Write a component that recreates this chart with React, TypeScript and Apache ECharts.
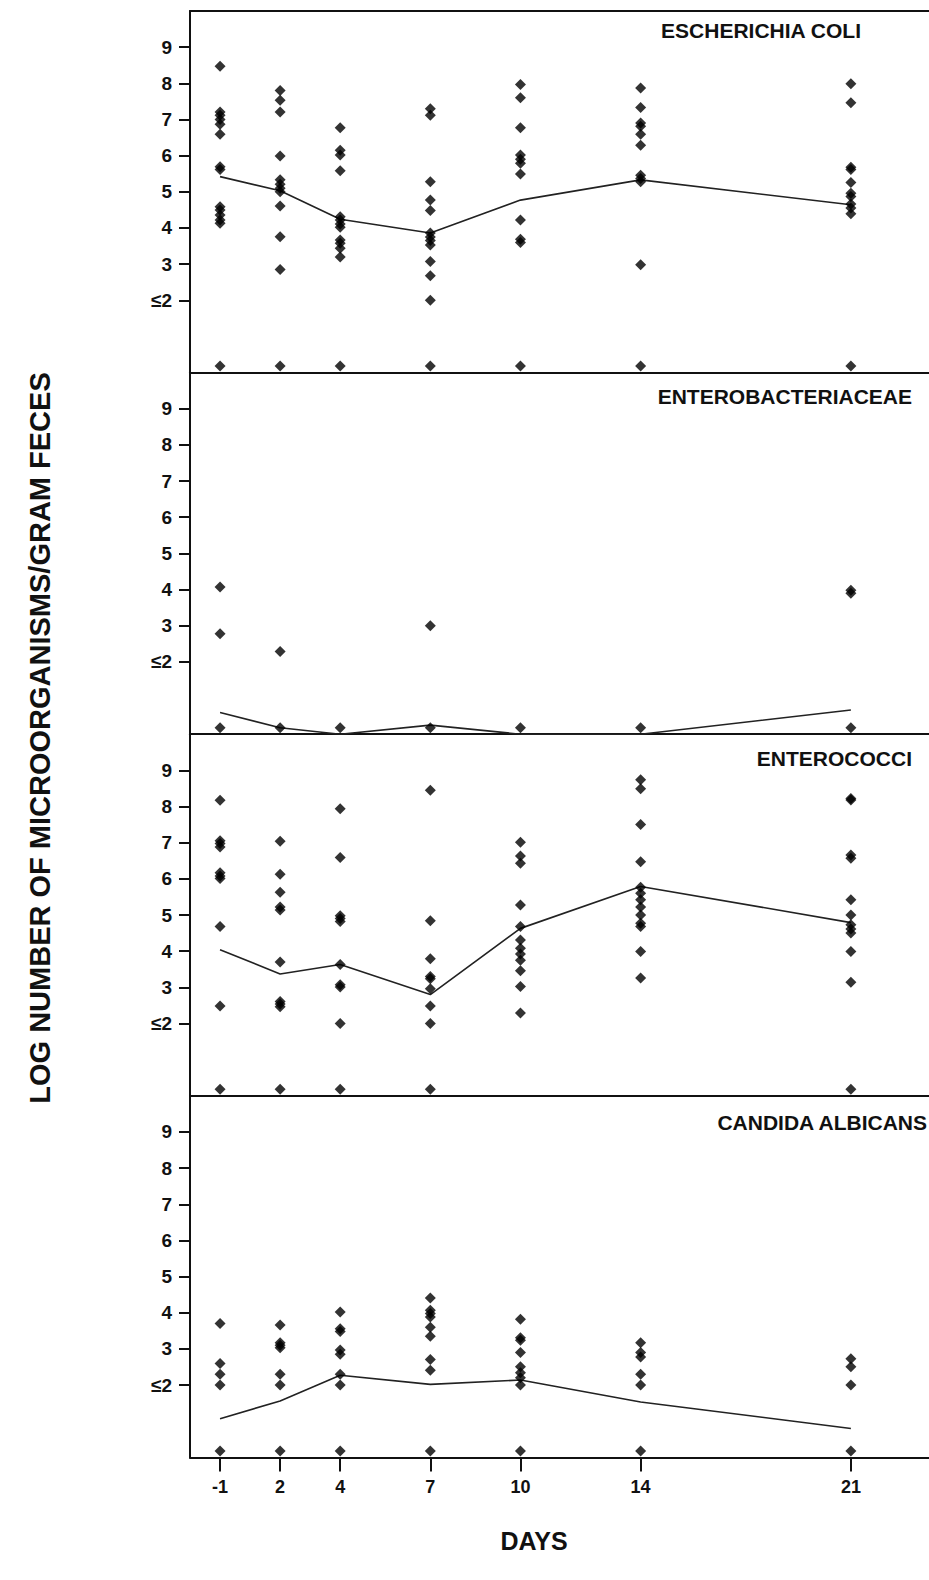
import { useEffect, useRef } from "react";
import * as echarts from "echarts";

// Sampling days and the axis position at which the figure draws each one
const dayLabels = ["-1", "2", "4", "7", "10", "14", "21"];
const dayAxisPos = [0, 2, 4, 7, 10, 14, 21];
const yTickValues = [2, 3, 4, 5, 6, 7, 8, 9];
const panelTitles = ["ESCHERICHIA COLI", "ENTEROBACTERIACEAE", "ENTEROCOCCI", "CANDIDA ALBICANS"];

// Individual log counts per day (0.18 = below detection limit row)
const ecoliPoints = [
  [8.47, 7.21, 7.12, 7.0, 6.87, 6.59, 5.69, 5.62, 4.59, 4.5, 4.36, 4.22, 4.13, 0.18],
  [7.8, 7.53, 7.21, 5.99, 5.33, 5.21, 5.1, 5.0, 4.61, 3.76, 2.85, 0.18],
  [6.77, 6.15, 6.02, 5.58, 4.31, 4.22, 4.11, 4.02, 3.67, 3.58, 3.44, 3.2, 0.18],
  [7.3, 7.12, 5.28, 4.77, 4.48, 3.86, 3.75, 3.65, 3.53, 3.07, 2.68, 2.0, 0.18],
  [7.97, 7.6, 6.77, 6.02, 5.9, 5.79, 5.49, 4.22, 3.69, 3.6, 0.18],
  [7.87, 7.33, 6.9, 6.81, 6.59, 6.29, 5.46, 5.37, 5.28, 2.98, 0.18],
  [7.99, 7.46, 5.68, 5.62, 5.26, 4.96, 4.87, 4.66, 4.55, 4.39, 0.18],
];
const ecoliMean = [5.42, 5.03, 4.24, 3.86, 4.77, 5.33, 4.64];

const enteroPoints = [
  [4.07, 2.78, 0.18],
  [2.29, 0.18],
  [0.18],
  [3.0, 0.18],
  [0.18],
  [0.18],
  [3.98, 3.9, 0.18],
];
const enteroMean = [0.6, 0.18, 0, 0.25, 0, 0, 0.67];

const enterococciPoints = [
  [8.17, 7.05, 6.98, 6.88, 6.17, 6.08, 6.01, 4.68, 2.48, 0.18],
  [7.04, 6.13, 5.63, 5.22, 5.14, 3.7, 2.61, 2.54, 2.46, 0.18],
  [7.94, 6.59, 4.98, 4.9, 4.82, 3.63, 3.07, 3.01, 2.0, 0.18],
  [8.45, 4.84, 3.79, 3.3, 3.24, 2.96, 2.48, 2.0, 0.18],
  [7.01, 6.63, 6.43, 5.28, 4.68, 4.31, 4.08, 3.92, 3.75, 3.46, 3.02, 2.29],
  [8.74, 8.49, 7.5, 6.47, 5.77, 5.6, 5.42, 5.22, 5.0, 4.77, 4.68, 3.99, 3.26],
  [8.22, 8.18, 6.66, 6.57, 5.42, 5.0, 4.73, 4.61, 4.5, 3.99, 3.14, 0.18],
];
const enterococciMean = [4.04, 3.37, 3.63, 2.8, 4.63, 5.79, 4.79];

const candidaPoints = [
  [3.7, 2.6, 2.3, 2.0, 0.18],
  [3.66, 3.17, 3.1, 3.03, 2.3, 2.0, 0.18],
  [4.02, 3.56, 3.48, 2.97, 2.85, 2.3, 2.0, 0.18],
  [4.41, 4.07, 3.98, 3.88, 3.6, 3.35, 2.71, 2.41, 0.18],
  [3.82, 3.31, 3.24, 2.9, 2.51, 2.34, 2.2, 2.0, 0.18],
  [3.17, 2.9, 2.78, 2.3, 2.0, 0.18],
  [2.73, 2.51, 2.0, 0.18],
];
const candidaMean = [1.07, 1.56, 2.27, 2.02, 2.14, 1.53, 0.8];

const panelPoints = [ecoliPoints, enteroPoints, enterococciPoints, candidaPoints];
const panelMeans = [ecoliMean, enteroMean, enterococciMean, candidaMean];

const FONT = "'Liberation Sans', Arial, Helvetica, sans-serif";
const INK = "#111";

export default function App() {
  const ref = useRef<HTMLDivElement>(null);

  useEffect(() => {
    if (!ref.current) return;
    const chart = echarts.init(ref.current, undefined, { renderer: "svg" });

    const panelTop = 11;
    const panelH = 361.6;
    const n = panelTitles.length;
    const xMin = -1;
    const xMax = 23.6;

    const grids: any[] = [];
    const xAxes: any[] = [];
    const yAxes: any[] = [];
    const series: any[] = [];

    for (let i = 0; i < n; i++) {
      const last = i === n - 1;
      grids.push({ left: 190, right: 0, top: panelTop + panelH * i, height: panelH });
      xAxes.push({
        type: "value",
        gridIndex: i,
        min: xMin,
        max: xMax,
        position: "bottom",
        axisLine: { show: true, onZero: false, lineStyle: { color: INK, width: 2 } },
        axisTick: {
          show: last,
          customValues: dayAxisPos,
          length: 14,
          lineStyle: { color: INK, width: 2 },
        },
        axisLabel: {
          show: last,
          customValues: dayAxisPos,
          margin: 21,
          fontSize: 18,
          fontWeight: "bold",
          fontFamily: FONT,
          color: INK,
          formatter: (v: number) => {
            const k = dayAxisPos.indexOf(v);
            return k >= 0 ? dayLabels[k] : "";
          },
        },
        splitLine: { show: false },
      });
      yAxes.push({
        type: "value",
        gridIndex: i,
        min: 0,
        max: 10,
        axisLine: { show: true, onZero: false, lineStyle: { color: INK, width: 2 } },
        axisTick: { show: true, customValues: yTickValues, length: 11, lineStyle: { color: INK, width: 2 } },
        axisLabel: {
          customValues: yTickValues,
          margin: 18,
          fontSize: 19,
          fontWeight: "bold",
          fontFamily: FONT,
          color: INK,
          formatter: (v: number) => (v === 2 ? "≤2" : String(v)),
        },
        splitLine: { show: false },
      });

      const pts: number[][] = [];
      panelPoints[i].forEach((vals, d) => {
        vals.forEach((v) => pts.push([dayAxisPos[d], v]));
      });
      series.push({
        type: "scatter",
        xAxisIndex: i,
        yAxisIndex: i,
        data: pts,
        symbol: "diamond",
        symbolSize: [11, 11],
        itemStyle: { color: "#000" },
        z: 3,
      });
      series.push({
        type: "line",
        xAxisIndex: i,
        yAxisIndex: i,
        data: panelMeans[i].map((v, d) => [dayAxisPos[d], v]),
        showSymbol: false,
        symbol: "none",
        lineStyle: { color: "#222", width: 1.6 },
        z: 2,
      });
    }

    // top border of the first panel
    xAxes.push({
      type: "value",
      gridIndex: 0,
      min: xMin,
      max: xMax,
      position: "top",
      axisLine: { show: true, onZero: false, lineStyle: { color: INK, width: 2 } },
      axisTick: { show: false },
      axisLabel: { show: false },
      splitLine: { show: false },
    });

    const titleRight = [861, 912, 912, 927];
    const titleY = [30, 396, 758, 1122];

    const graphics: any[] = panelTitles.map((t, i) => ({
      type: "text",
      x: titleRight[i],
      y: titleY[i],
      style: {
        text: t,
        align: "right",
        verticalAlign: "middle",
        font: `bold 21px ${FONT}`,
        fill: INK,
      },
    }));
    graphics.push({
      type: "text",
      x: 40,
      y: 738,
      rotation: Math.PI / 2,
      style: {
        text: "LOG NUMBER OF MICROORGANISMS/GRAM FECES",
        align: "center",
        verticalAlign: "middle",
        font: `bold 29px ${FONT}`,
        fill: INK,
      },
    });
    graphics.push({
      type: "text",
      x: 534,
      y: 1541,
      style: {
        text: "DAYS",
        align: "center",
        verticalAlign: "middle",
        font: `bold 25px ${FONT}`,
        fill: INK,
      },
    });

    chart.setOption({
      animation: false,
      backgroundColor: "#fff",
      grid: grids,
      xAxis: xAxes,
      yAxis: yAxes,
      series,
      graphic: graphics,
    });

    return () => chart.dispose();
  }, []);

  return (
    <div
      ref={ref}
      style={{ position: "absolute", left: 0, top: 0, width: 929, height: 1580 }}
    />
  );
}
